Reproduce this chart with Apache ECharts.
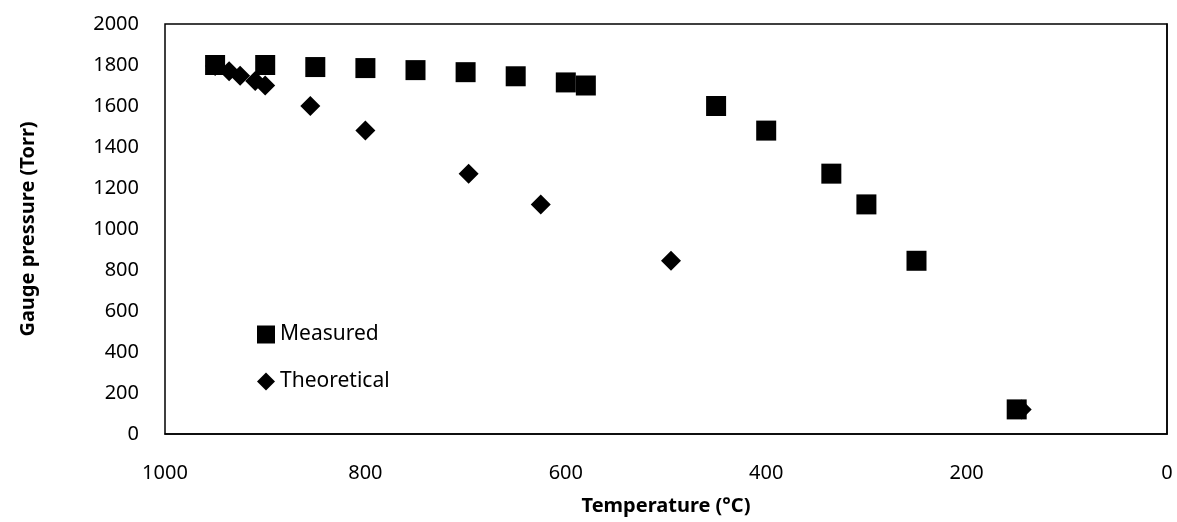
<!DOCTYPE html>
<html>
<head>
<meta charset="utf-8">
<script src="https://cdn.jsdelivr.net/npm/echarts@6/dist/echarts.min.js"></script>
<style>
  html, body { margin: 0; padding: 0; background: #fff; }
  #chart { width: 1177px; height: 522px; }
</style>
</head>
<body>
<div id="chart"></div>
<script>
// measured points: temperature (°C) / gauge pressure (Torr)
var measuredT = [950, 900, 850, 800, 750, 700, 650, 600, 580, 450, 400, 335, 300, 250, 150]
var measuredP = [1800, 1800, 1790, 1785, 1775, 1765, 1745, 1715, 1700, 1600, 1480, 1270, 1120, 845, 120]

// theoretical points
var theoryT = [950, 936, 925, 910, 900, 855, 800, 697, 625, 495, 145]
var theoryP = [1795, 1770, 1748, 1722, 1700, 1600, 1480, 1270, 1120, 845, 120]

function pairs(xs, ys) {
    return xs.map(function (x, i) { return [x, ys[i]] })
}

// plain numbers, no thousands separator
function plain(v) {
    return String(v)
}

var font = 'Noto Sans, sans-serif'
var chart = echarts.init(document.getElementById('chart'))

chart.setOption({
    animation: false,
    grid: {
        left: 165,
        right: 10,
        top: 24,
        bottom: 88,
        show: true,
        borderColor: '#000',
        borderWidth: 1.5
    },
    legend: {
        orient: 'vertical',
        left: 257,
        top: 324,
        padding: 0,
        itemGap: 26,
        itemWidth: 18,
        itemHeight: 18,
        textStyle: { fontFamily: font, fontSize: 21, color: '#000' },
        data: [
            { name: 'Measured', icon: 'rect' },
            { name: 'Theoretical', icon: 'diamond' }
        ]
    },
    xAxis: {
        type: 'value',
        inverse: true,
        min: 0,
        max: 1000,
        interval: 200,
        name: 'Temperature (°C)',
        nameLocation: 'middle',
        nameGap: 62,
        nameTextStyle: { fontFamily: font, fontSize: 20, fontWeight: 'bold', color: '#000' },
        axisLine: { show: true, lineStyle: { color: '#000', width: 1.5 } },
        axisTick: { show: false },
        splitLine: { show: false },
        axisLabel: { fontFamily: font, fontSize: 20, color: '#000', margin: 29, formatter: plain }
    },
    yAxis: {
        type: 'value',
        min: 0,
        max: 2000,
        interval: 200,
        name: 'Gauge pressure (Torr)',
        nameLocation: 'middle',
        nameGap: 127,
        nameTextStyle: { fontFamily: font, fontSize: 20, fontWeight: 'bold', color: '#000' },
        axisLine: { show: true, lineStyle: { color: '#000', width: 1.5 } },
        axisTick: { show: false },
        splitLine: { show: false },
        axisLabel: { fontFamily: font, fontSize: 20, color: '#000', margin: 26, formatter: plain }
    },
    series: [
        {
            name: 'Measured',
            type: 'scatter',
            symbol: 'rect',
            symbolSize: 20,
            itemStyle: { color: '#000', opacity: 1 },
            data: pairs(measuredT, measuredP)
        },
        {
            name: 'Theoretical',
            type: 'scatter',
            symbol: 'diamond',
            symbolSize: 20,
            itemStyle: { color: '#000', opacity: 1 },
            data: pairs(theoryT, theoryP)
        }
    ]
})
</script>
</body>
</html>
